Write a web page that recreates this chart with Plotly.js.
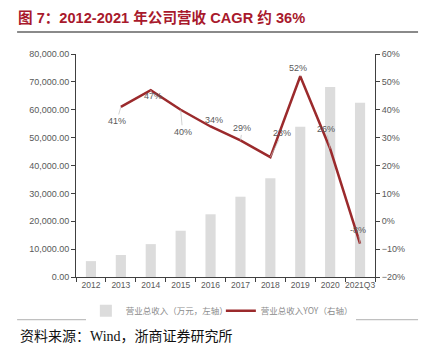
<!DOCTYPE html>
<html><head><meta charset="utf-8">
<script src="https://cdn.plot.ly/plotly-3.0.1.min.js"></script>
<style>body{margin:0;padding:0;background:#fff}#chart{width:427px;height:354px}</style>
</head><body><div id="chart"></div>
<script>
const categories = ["2012","2013","2014","2015","2016","2017","2018","2019","2020","2021Q3"];
const revenue = [5700, 7900, 11800, 16600, 22500, 28800, 35400, 53900, 68200, 62500];
const yoyCategories = ["2013","2014","2015","2016","2017","2018","2019","2020","2021Q3"];
const yoy = [41, 47, 40, 34, 29, 23, 52, 26, -8];
const yoyLabels = ["41%","47%","40%","34%","29%","23%","52%","26%","-8%"];
const barName = "营业总收入（万元，左轴）";
const lineName = "营业总收入YOY（右轴）";
const titleText = "图 7：2012-2021 年公司营收 CAGR 约 36%";
const sourceText = "资料来源：Wind，浙商证券研究所";

// label offsets in pixels (style only)
const labelOffsets = [[-4,14],[2,6],[2,22],[3,-6],[2,-12],[12,-24],[-2,-8],[-4,-20],[-2,-14]];

const gray = "#595959";
const font = "Liberation Sans, Arial, Noto Sans CJK SC, sans-serif";

const traces = [
  {type:"bar", x:categories, y:revenue, name:barName, marker:{color:"#dcdcdc"}, yaxis:"y", hoverinfo:"skip"},
  {type:"scatter", mode:"lines", x:yoyCategories, y:yoy, name:lineName, line:{color:"#9b2a2c", width:2.5}, yaxis:"y2", hoverinfo:"skip"}
];

const annotations = yoy.map((v,i)=>({
  x: categories.indexOf(yoyCategories[i]), y: v, xref:"x", yref:"y2",
  text: yoyLabels[i], showarrow:true, arrowhead:0, arrowwidth:0.7, arrowcolor:"#bdbdbd",
  ax: labelOffsets[i][0], ay: labelOffsets[i][1], standoff:0,
  font:{family:font, size:9, color:gray}
}));
annotations.push({
  xref:"paper", yref:"paper", x:-0.194, y:-0.2677, xanchor:"left", yanchor:"middle",
  text: sourceText, showarrow:false,
  font:{family:"Liberation Serif, Noto Sans CJK SC, serif", size:14, color:"#111"}
});

const layout = {
  width:427, height:354,
  margin:{l:76, r:52, t:54, b:77},
  paper_bgcolor:"#fff", plot_bgcolor:"#fff",
  title:{text:"<b>"+titleText+"</b>", x:18/427, xanchor:"left", xref:"container", y:1-18/354, yref:"container", yanchor:"middle",
    font:{family:"Liberation Sans, Arial, Noto Sans CJK SC, sans-serif", size:14.6, color:"#a8192c"}},
  bargap:0.66,
  showlegend:true,
  legend:{orientation:"h", x:0.033, xanchor:"left", y:-0.086, yanchor:"top", entrywidth:90, entrywidthmode:"pixels",
    font:{family:"Noto Sans CJK SC, sans-serif", size:8.5, color:"#8c8c8c"}, itemwidth:30, tracegroupgap:0},
  xaxis:{type:"category", range:[-0.5, categories.length-0.5], showline:true, linecolor:"#404040", linewidth:1, ticks:"outside", ticklen:4, tickcolor:"#404040",
    tickson:"boundaries", tickangle:0, tickfont:{family:font, size:8.5, color:gray}, showgrid:false, zeroline:false},
  yaxis:{range:[0,80000], dtick:10000, tickformat:",.2f", showline:true, linecolor:"#404040", linewidth:1,
    ticks:"outside", ticklen:4, tickcolor:"#404040", tickfont:{family:font, size:9, color:gray}, showgrid:false, zeroline:false},
  yaxis2:{range:[-20,60], dtick:10, ticksuffix:"%", overlaying:"y", side:"right", showline:true, linecolor:"#404040", linewidth:1,
    ticks:"outside", ticklen:4, tickcolor:"#404040", tickfont:{family:font, size:9, color:gray}, showgrid:false, zeroline:false},
  annotations: annotations,
  shapes:[
    {type:"line", xref:"paper", yref:"paper", x0:-0.197, x1:1.144, y0:1.0987, y1:1.0987, line:{color:"#8a8a8a", width:2}},
    {type:"line", xref:"paper", yref:"paper", x0:-0.197, x1:1.144, y0:-0.1915, y1:-0.1915, line:{color:"#b0b0b0", width:1}}
  ]
};

Plotly.newPlot("chart", traces, layout, {staticPlot:true, displayModeBar:false});
</script></body></html>
